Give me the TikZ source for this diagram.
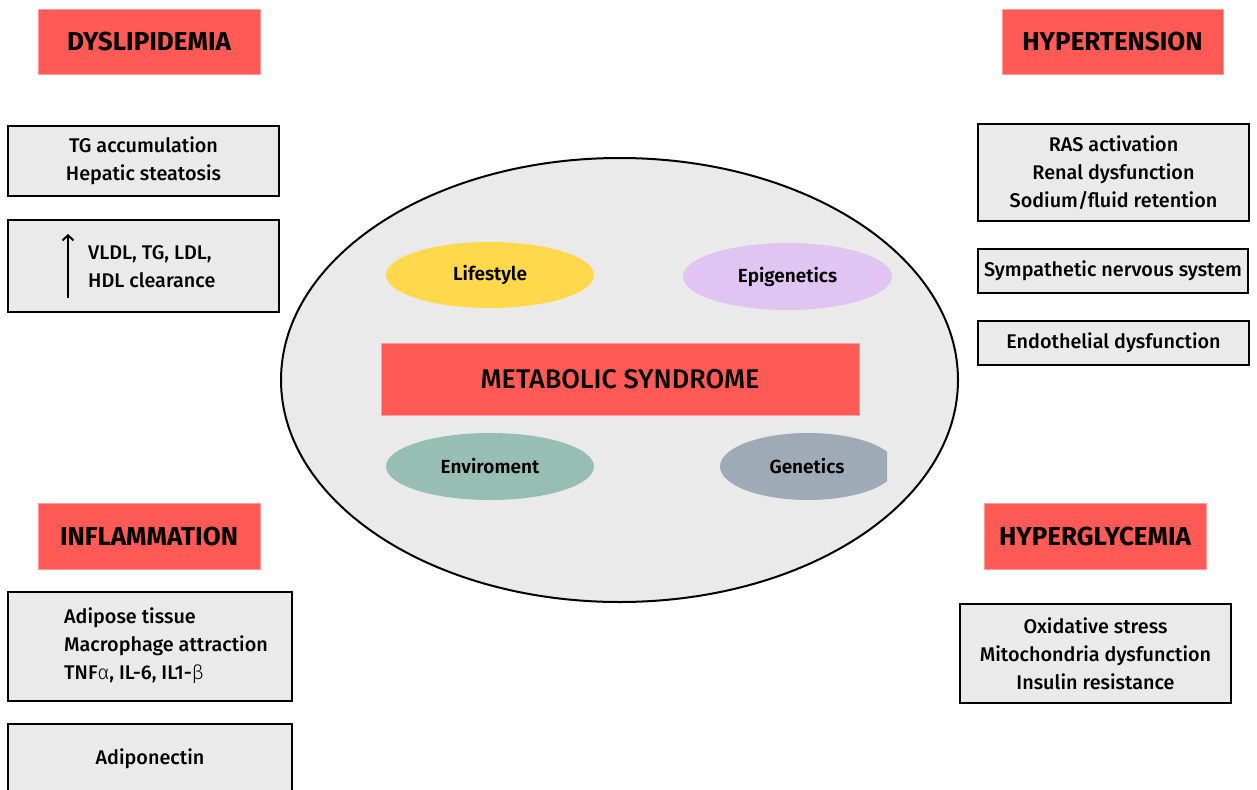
\documentclass[tikz,border=0pt]{standalone}
\usepackage{fontspec}
\setmainfont{Fira Sans}
\newfontfamily\med{Fira Sans Medium}
\newfontfamily\semi{Fira Sans SemiBold}
\newfontfamily\heavy{Fira Sans Bold}
\usetikzlibrary{arrows.meta,shapes.geometric}
\definecolor{msred}{HTML}{FF5A55}
\definecolor{boxgray}{HTML}{EAEAEA}
\definecolor{lifeyel}{HTML}{FFD84C}
\definecolor{epilav}{HTML}{E0C5F2}
\definecolor{envteal}{HTML}{97BEB3}
\definecolor{genblue}{HTML}{9FAAB7}
\tikzset{
  title/.style={rectangle, fill=msred, draw=msred!60, line width=0.6pt, minimum width=222pt, minimum height=65pt, inner sep=0pt, font=\fontsize{26}{30}\selectfont\heavy},
  infobox/.style={rectangle, fill=boxgray, draw=black, line width=2.2pt, inner sep=0pt, align=center, font=\fontsize{19.8}{28}\selectfont\med},
  boxtext/.style={inner sep=0pt, font=\fontsize{19.8}{28}\selectfont\med},
  factor/.style={ellipse, inner sep=0pt, font=\fontsize{19}{22}\selectfont\semi},
}
\begin{document}
\begin{tikzpicture}[x=1pt,y=-1pt]
\clip (0,0) rectangle (1257,789);
\useasboundingbox (0,0) rectangle (1257,789);
\fill[white] (0,0) rectangle (1257,789);

% central ellipse
\node[ellipse, draw=black, fill=boxgray, line width=2pt, minimum width=677pt, minimum height=444pt] (core) at (619.5,380) {};
\node[factor, fill=lifeyel, minimum width=208pt, minimum height=66pt] (life) at (490,275) {Lifestyle};
\node[factor, fill=epilav, minimum width=209pt, minimum height=67pt] (epi) at (787.5,276.5) {Epigenetics};
\node[factor, fill=envteal, minimum width=208pt, minimum height=67pt] (env) at (490,466.5) {Enviroment};
\begin{scope}
\clip (700,420) rectangle (887,510);
\node[ellipse, fill=genblue, minimum width=176pt, minimum height=67pt, inner sep=0pt] (genell) at (808,466.5) {};
\end{scope}
\node[font=\fontsize{19}{22}\selectfont\semi] (gen) at (807,466.5) {Genetics};
\node[rectangle, fill=msred, draw=msred!60, line width=0.6pt, minimum width=478pt, minimum height=72pt, inner sep=0pt, font=\fontsize{27}{30}\selectfont\med] (ms) at (620,379) {METABOLIC SYNDROME};

% titles
\node[title] (dys) at (149,41.5) {DYSLIPIDEMIA};
\node[title, minimum width=221pt] (hyp) at (1112.5,41.5) {HYPERTENSION};
\node[title, minimum height=66pt] (inf) at (149,536) {INFLAMMATION};
\node[title, minimum height=66pt] (hgl) at (1095,536) {HYPERGLYCEMIA};

% left boxes
\node[infobox, minimum width=271pt, minimum height=70pt] (tg) at (143.5,161) {TG accumulation\\Hepatic steatosis};
\node[infobox, minimum width=271pt, minimum height=92pt] (vldl) at (143.5,266) {};
\node[boxtext, align=left, anchor=west] (vldltxt) at (88,267) {VLDL, TG, LDL,\\HDL clearance};
\coordinate (arrbot) at (68,298);
\coordinate (arrtop) at (68,234);
\draw[line width=2.6pt, -{Straight Barb[length=5pt,width=11pt,line width=2pt]}] (arrbot) -- (arrtop);

\node[infobox, minimum width=284pt, minimum height=109pt] (adip) at (150,646.5) {};
\node[boxtext, align=left, anchor=west] (adiptxt) at (64,646) {Adipose tissue\\Macrophage attraction\\TNF{\fontspec{Fira Sans Light}α}, IL-6, IL1-{\fontspec{Fira Sans Light}β}};
\node[infobox, minimum width=284pt, minimum height=90pt] (adipo) at (150,769) {};
\node[boxtext] (adipotxt) at (150,759) {Adiponectin};

% right boxes
\node[infobox, minimum width=271pt, minimum height=97pt] (ras) at (1113.5,172.5) {RAS activation\\Renal dysfunction\\Sodium/fluid retention};
\node[infobox, minimum width=270pt, minimum height=44pt] (symp) at (1113,271) {Sympathetic nervous system};
\node[infobox, minimum width=271pt, minimum height=44pt] (endo) at (1113.5,343) {Endothelial dysfunction};
\node[infobox, minimum width=271pt, minimum height=99pt] (oxid) at (1095.5,653.5) {Oxidative stress\\Mitochondria dysfunction\\Insulin resistance};
\end{tikzpicture}
\end{document}
